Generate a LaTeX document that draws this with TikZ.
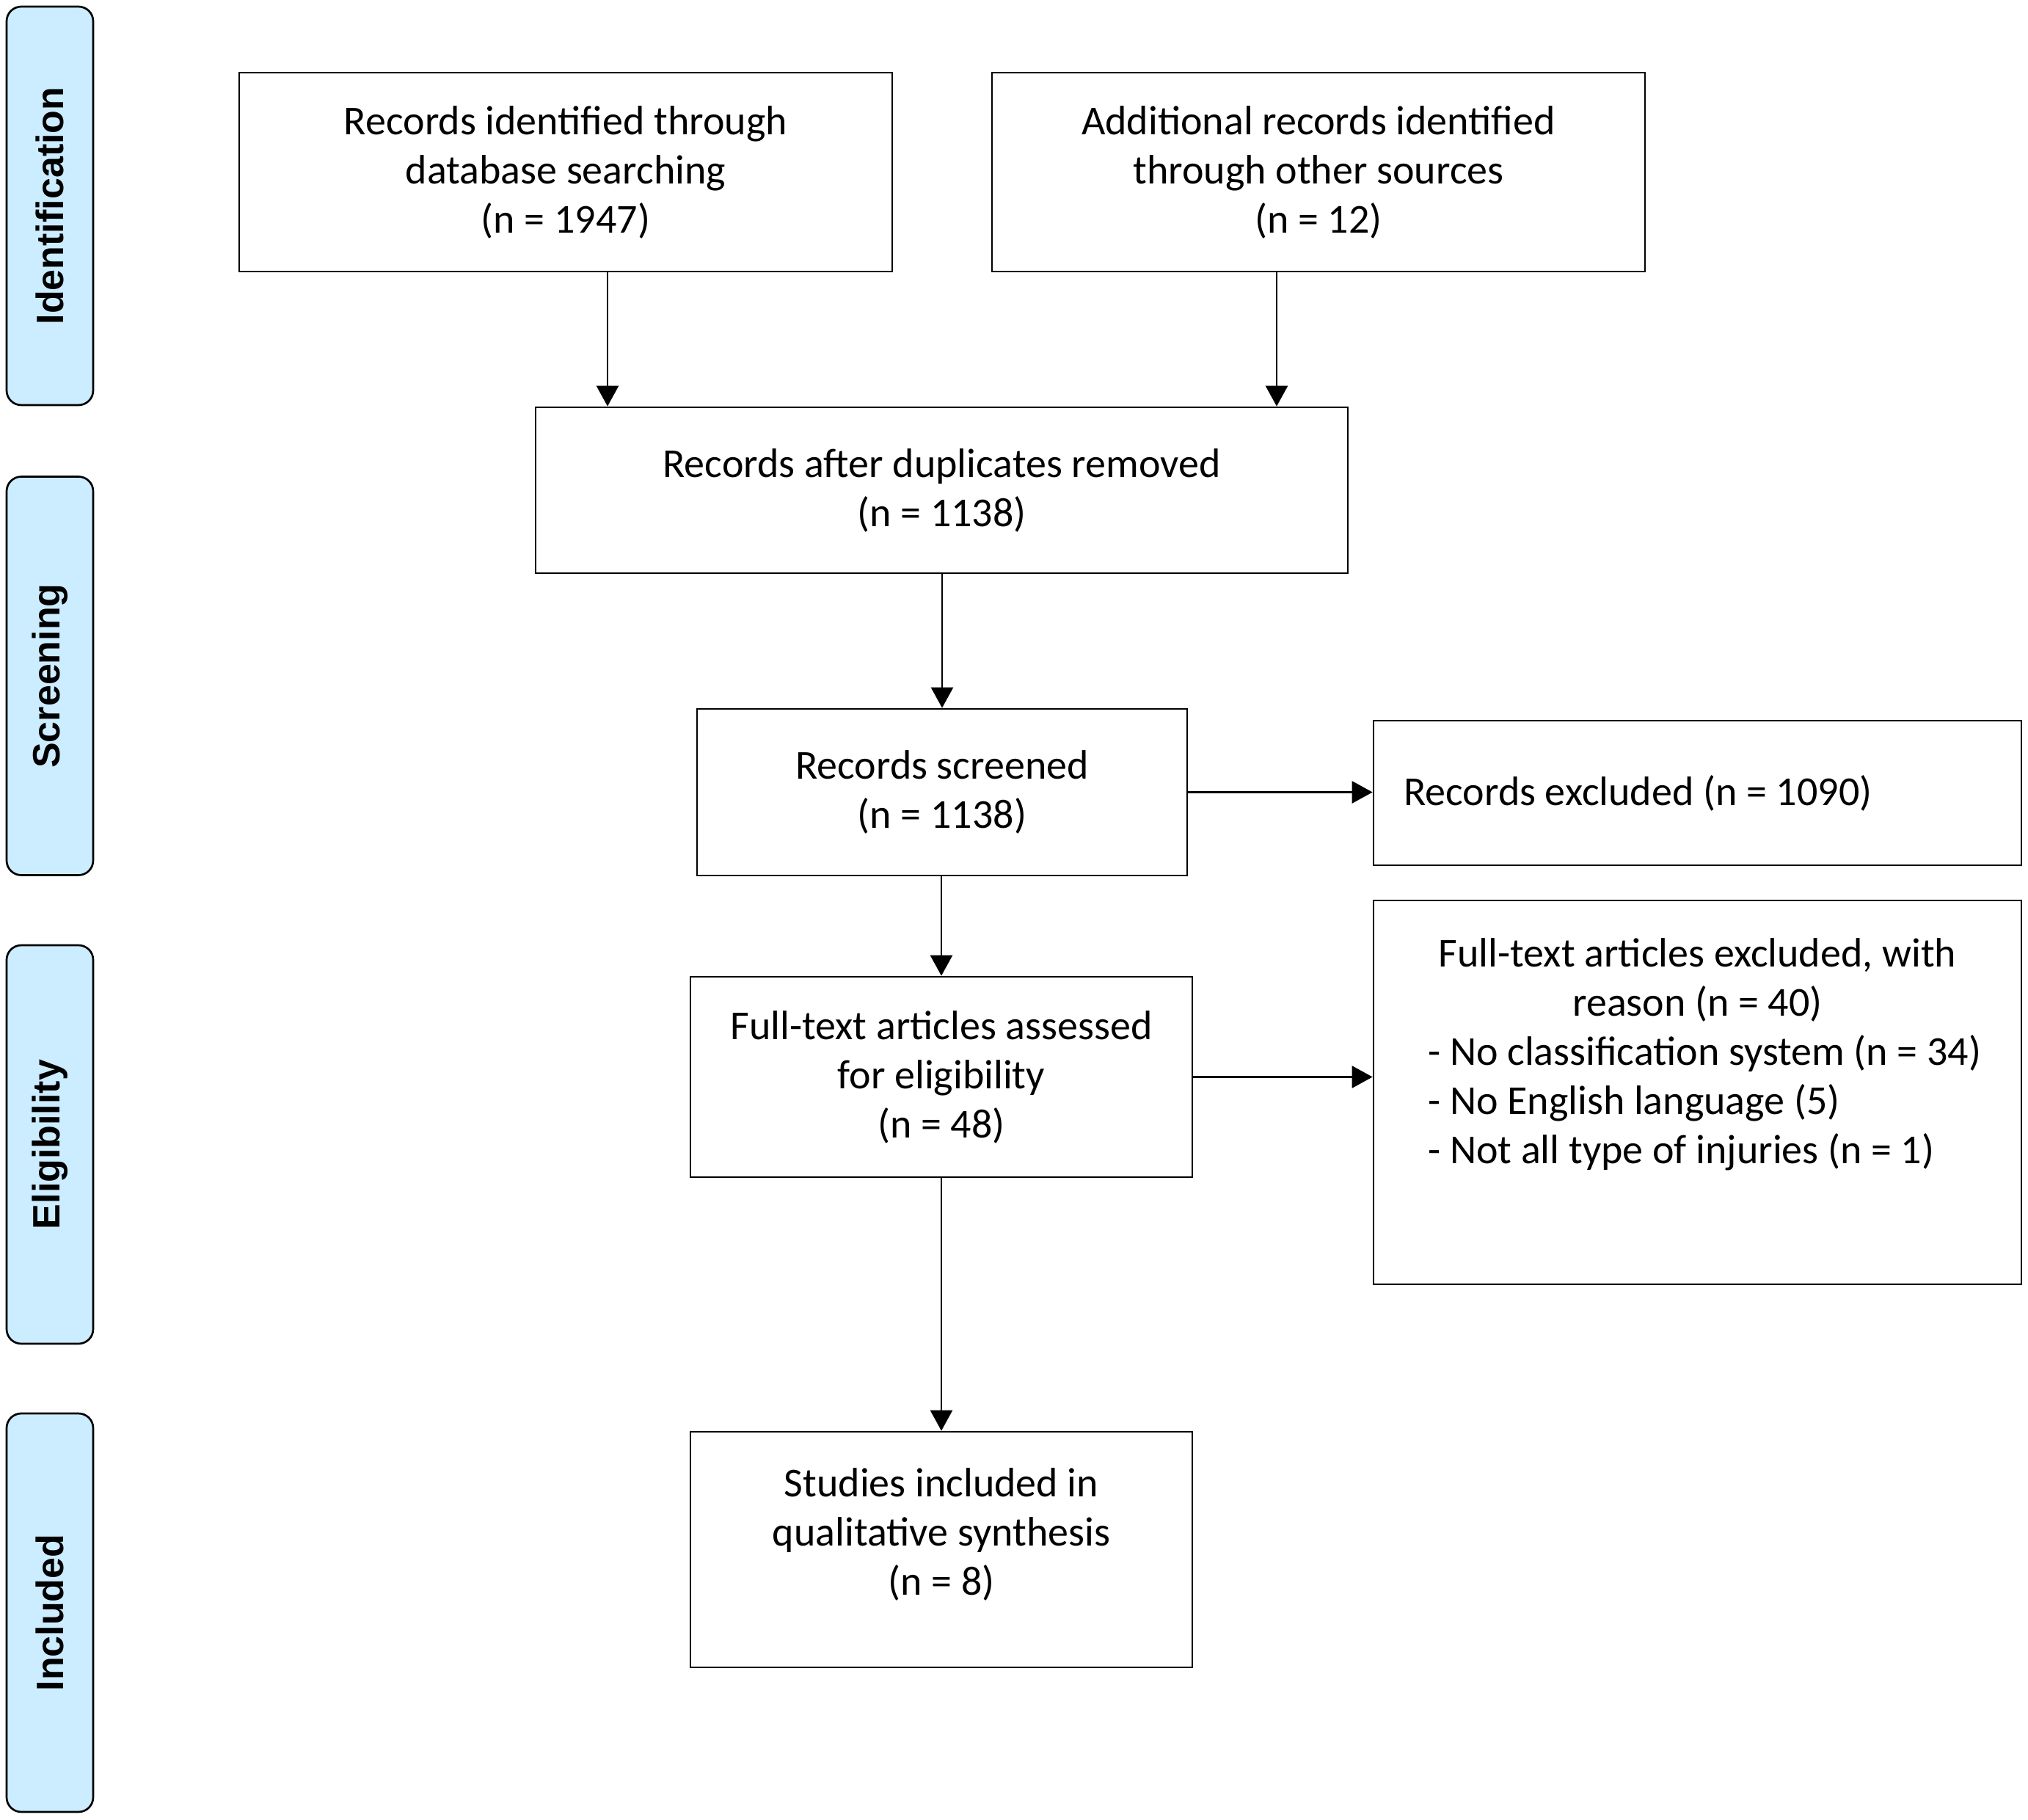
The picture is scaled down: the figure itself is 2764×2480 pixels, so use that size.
\documentclass[tikz,border=0pt]{standalone}
\usepackage{fontspec}
\setmainfont{Carlito}
\newfontfamily\sidefont{Liberation Sans}
\usetikzlibrary{arrows.meta}
\definecolor{sideblue}{RGB}{204,236,255}
\begin{document}
\begin{tikzpicture}[x=1pt,y=-1pt,
  box/.style={draw,line width=2.7pt,rectangle,inner sep=0pt,align=center,font=\fontsize{56}{67}\selectfont},
  txt/.style={inner sep=0pt,font=\fontsize{56}{67}\selectfont},
  side/.style={draw,line width=2.7pt,fill=sideblue,rounded corners=20pt,minimum width=118pt,minimum height=543pt,inner sep=0pt},
  sidetext/.style={rotate=90,inner sep=0pt,font=\sidefont\bfseries\fontsize{52}{62}\selectfont},
  arr/.style={line width=2.7pt,-{Triangle[length=28pt,width=30pt]}}]
\useasboundingbox[fill=white] (0,0) rectangle (2764,2480);

% side phase labels
\node[side] (s1) at (68,280.5) {};
\node[sidetext] (s1t) at (s1) {Identification};
\node[side] (s2) at (68,921) {};
\node[sidetext] (s2t) at (s2) {Screening};
\node[side] (s3) at (68,1559.5) {};
\node[sidetext] (s3t) at (s3) {Eligibility};
\node[side] (s4) at (68,2197.5) {};
\node[sidetext] (s4t) at (s4) {Included};

% boxes
\node[box,minimum width=890pt,minimum height=271pt] (A) at (771,234.5) {Records identified through\\database searching\\(n = 1947)};
\node[box,minimum width=890pt,minimum height=271pt] (B) at (1797,234.5) {Additional records identified\\through other sources\\(n = 12)};
\node[box,minimum width=1107pt,minimum height=226pt] (C) at (1283.5,668) {Records after duplicates removed\\(n = 1138)};
\node[box,minimum width=668pt,minimum height=227pt] (D) at (1284,1079.5) {Records screened\\(n = 1138)};
\node[box,minimum width=883pt,minimum height=197pt] (E) at (2313.5,1080.5) {};
\node[txt,anchor=west] (Et) at (1913,1081) {Records excluded (n = 1090)};
\node[box,minimum width=684pt,minimum height=273pt] (G) at (1283,1467.5) {Full-text articles assessed\\for eligibility\\(n = 48)};
\node[box,minimum width=883pt,minimum height=523pt] (F) at (2313.5,1488.5) {};
\node[txt,align=center,anchor=north] (Ft) at (2313.5,1278) {Full-text articles excluded, with\\reason (n = 40)};
\node[txt,align=left,anchor=north west] (Fl) at (1946,1410) {- No classification system (n = 34)\\- No English language (5)\\- Not all type of injuries (n = 1)};
\node[box,minimum width=684pt,minimum height=321pt] (H) at (1283,2111.5) {};
\node[txt,align=center] (Ht) at (1283,2091) {Studies included in\\qualitative synthesis\\(n = 8)};

% connectors
\coordinate (xa) at (828,0);
\coordinate (xb) at (1740,0);
\draw[arr] (A.south -| xa) -- (C.north -| xa);
\draw[arr] (B.south -| xb) -- (C.north -| xb);
\draw[arr] (C.south -| D.north) -- (D.north);
\draw[arr] (D.east) -- (D.east -| E.west);
\draw[arr] (D.south -| G.north) -- (G.north);
\draw[arr] (G.east) -- (G.east -| F.west);
\draw[arr] (G.south) -- (H.north);
\end{tikzpicture}
\end{document}
